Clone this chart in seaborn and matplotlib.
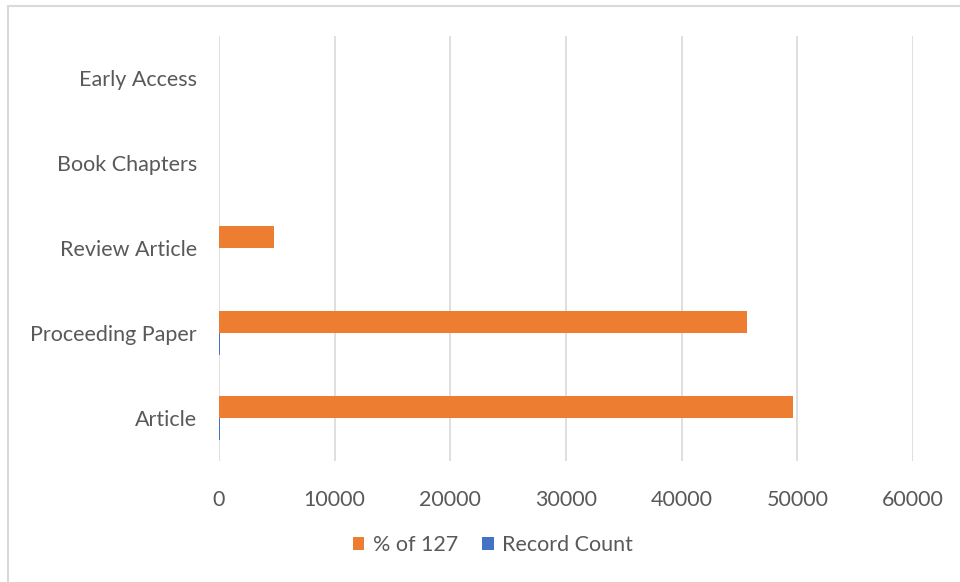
import matplotlib
matplotlib.use("Agg")
import matplotlib.pyplot as plt
from matplotlib.lines import Line2D
from matplotlib.patches import Patch
import seaborn as sns
import pandas as pd

categories = ["Early Access", "Book Chapters", "Review Article", "Proceeding Paper", "Article"]
pct_of_127 = [0, 0, 4724, 45669, 49606]
record_count = [1, 1, 6, 58, 63]
series_names = ["% of 127", "Record Count"]
x_ticks = [0, 10000, 20000, 30000, 40000, 50000, 60000]

df = pd.DataFrame({
    "category": categories * 2,
    "series": [series_names[0]] * len(categories) + [series_names[1]] * len(categories),
    "value": pct_of_127 + record_count,
})

sns.set_theme(style="white")
plt.rcParams["font.family"] = ["Lato", "DejaVu Sans"]

W, H = 960, 582
fig = plt.figure(figsize=(W / 100, H / 100), dpi=100)
ax = fig.add_axes([219 / W, 1 - 460.5 / H, 694 / W, 425 / H])

orange = "#ED7D31"
blue = "#4472C4"
sns.barplot(data=df, y="category", x="value", hue="series", order=categories,
            hue_order=series_names, palette=[orange, blue], orient="h",
            width=0.52, gap=0, ax=ax, legend=False, saturation=1,
            edgecolor="none", linewidth=0)

ax.set_xlim(0, 60000)
ax.set_xticks(x_ticks)
ax.set_xticklabels([str(t) for t in x_ticks])
ax.set_xlabel("")
ax.set_ylabel("")
for s in ax.spines.values():
    s.set_visible(False)
ax.grid(axis="x", color="#d9d9d9", linewidth=1.2)
ax.grid(axis="y", visible=False)
ax.set_axisbelow(True)
ax.tick_params(axis="both", length=0, colors="#595959", labelsize=15.5)
ax.tick_params(axis="x", pad=21)
ax.tick_params(axis="y", pad=16)

handles = [Patch(facecolor=orange, edgecolor="none"), Patch(facecolor=blue, edgecolor="none")]
leg = fig.legend(handles, series_names, loc="center", bbox_to_anchor=(493 / W, 1 - 545 / H),
                 ncol=2, frameon=False, fontsize=15.5, handlelength=0.55, handleheight=0.55,
                 handletextpad=0.4, columnspacing=1.1, labelcolor="#595959")

# chart border (left and top edges visible)
fig.add_artist(Line2D([8 / W, 8 / W], [0, 1 - 6 / H], color="#d9d9d9", linewidth=1.5))
fig.add_artist(Line2D([8 / W, 1], [1 - 6 / H, 1 - 6 / H], color="#d9d9d9", linewidth=1.5))

fig.savefig("out.png", dpi=100)
